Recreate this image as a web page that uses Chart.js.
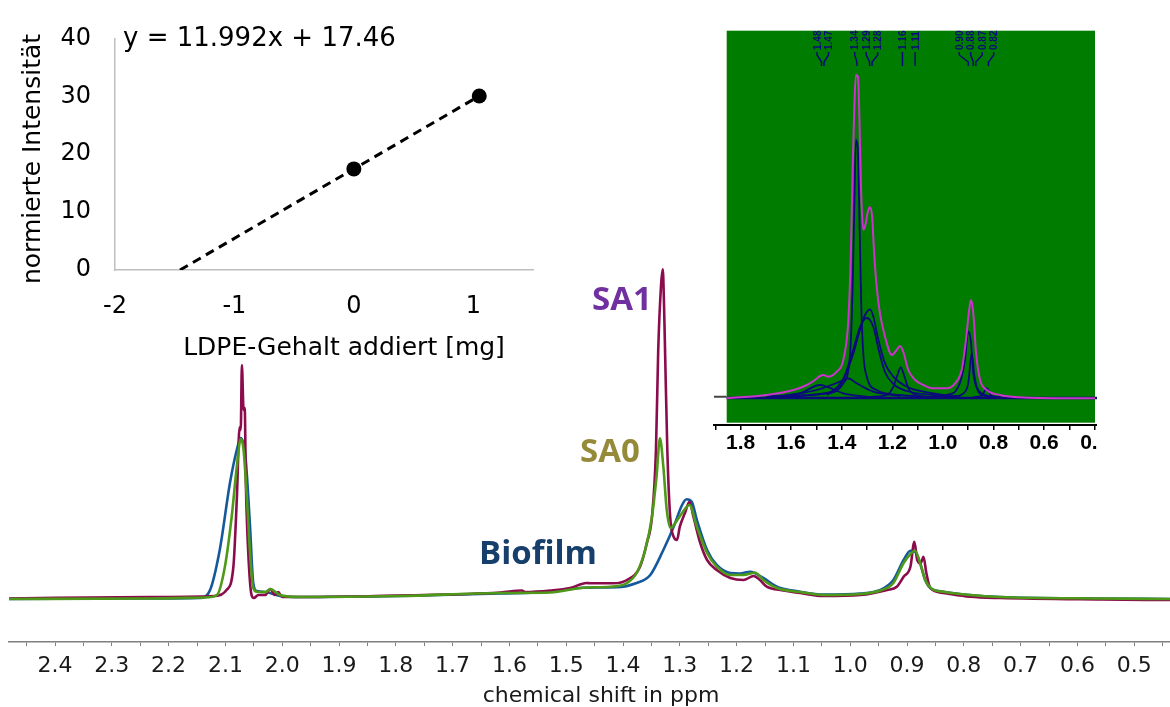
<!DOCTYPE html>
<html>
<head>
<meta charset="utf-8">
<script src="https://cdn.jsdelivr.net/npm/chart.js@4.4.1/dist/chart.umd.min.js"></script>
<style>
html, body { margin: 0; padding: 0; background: #fff; }
#wrap { position: relative; width: 1170px; height: 707px; overflow: hidden; }
canvas { position: absolute; display: block; }
#main { left: 0; top: 0; }
#calib { left: 0; top: 0; }
#zoom { left: 700px; top: 20px; }
</style>
</head>
<body>
<div id="wrap">
<canvas id="main" width="1170" height="707"></canvas>
<canvas id="calib" width="560" height="370"></canvas>
<canvas id="zoom" width="397" height="445"></canvas>
</div>
<script>
// ---- main 1H spectra: [chemical shift ppm, relative intensity]
const biofilm = [[2.481,-1],[2.233,-0.5],[2.145,0],[2.127,8],[2.110,48],[2.092,115],[2.080,148],[2.073,160],[2.065,143],[2.057,75],[2.051,15],[2.045,7],[2.030,6],[2.004,2],[1.969,1],[1.793,2],[1.616,4.5],[1.528,6.3],[1.470,10.3],[1.411,10.7],[1.376,15],[1.352,23],[1.329,48],[1.311,71],[1.296,93],[1.288,98.7],[1.279,96.3],[1.270,78],[1.252,48],[1.235,33],[1.211,25],[1.194,24.5],[1.176,26.3],[1.153,20],[1.129,11.3],[1.088,6.3],[1.047,3.5],[0.982,4.5],[0.947,8],[0.924,18],[0.906,38],[0.894,47.3],[0.886,46.3],[0.877,35],[0.868,18],[0.859,10],[0.836,6.3],[0.789,3],[0.736,1],[0.558,-0.5],[0.437,-1]];
const sa0 = [[2.481,-1],[2.233,-0.5],[2.136,0.5],[2.115,3],[2.101,31],[2.089,81],[2.080,131],[2.073,159],[2.068,148],[2.062,98],[2.057,48],[2.051,10],[2.043,6],[2.029,6],[2.021,9],[2.004,3],[1.969,1],[1.793,2],[1.616,5],[1.528,5.5],[1.470,10.3],[1.423,11.3],[1.393,15],[1.376,25],[1.361,48],[1.349,81.3],[1.341,121.3],[1.335,159.7],[1.329,131.3],[1.323,88],[1.316,70],[1.308,75],[1.296,85],[1.283,93],[1.270,71.3],[1.252,45],[1.235,31.3],[1.211,23],[1.188,23],[1.167,25.3],[1.153,18],[1.129,10],[1.088,6],[1.047,3],[0.982,4],[0.947,7.5],[0.924,15],[0.906,35],[0.894,44],[0.886,47.3],[0.877,35],[0.868,18],[0.856,9],[0.836,6.3],[0.789,3],[0.736,1],[0.558,-0.5],[0.437,-1]];
const sa1 = [[2.481,-0.5],[2.233,1],[2.118,2],[2.098,8],[2.086,31],[2.080,98],[2.075,171],[2.073,168],[2.071,233],[2.068,188],[2.066,190],[2.064,115],[2.060,48],[2.054,3],[2.050,0],[2.042,3],[2.030,3],[2.021,9],[2.013,3],[2.007,6],[2.000,1],[1.969,1],[1.793,2.5],[1.616,5.5],[1.578,7.5],[1.572,6],[1.528,7.5],[1.493,10],[1.464,15],[1.458,14.7],[1.417,14.7],[1.393,18],[1.370,31.3],[1.358,55],[1.349,81.3],[1.342,148],[1.338,248],[1.333,313],[1.330,328.7],[1.328,298],[1.326,248],[1.322,148],[1.317,81.3],[1.311,61.3],[1.305,58],[1.300,71.3],[1.291,85],[1.283,96.3],[1.276,81.3],[1.264,55],[1.252,38],[1.235,28],[1.211,20],[1.188,18],[1.170,22],[1.159,18],[1.147,11.3],[1.123,8],[1.088,5],[1.047,2],[0.982,3],[0.935,8],[0.918,11.3],[0.906,21.3],[0.894,31.3],[0.887,56.3],[0.882,38],[0.876,34.7],[0.871,41.3],[0.866,25],[0.859,10],[0.836,5],[0.789,1.3],[0.736,0],[0.558,-1.5],[0.437,-2]];

// ---- standard addition inset
const ldpeAdded = [0, 1.05];          // mg
const normIntensity = [17.46, 30.05];
const fitSlope = 11.992;
const fitIntercept = 17.46;

// ---- deconvolution inset (0.4 - 1.9 ppm)
const envelope = [[1.855,-1.3],[1.696,2],[1.591,7],[1.538,12],[1.506,17],[1.486,21],[1.473,22],[1.453,20.3],[1.420,25.3],[1.394,37],[1.374,77],[1.364,143.7],[1.357,227],[1.350,293.7],[1.344,322],[1.336,320.3],[1.330,277],[1.324,210.3],[1.315,167],[1.305,173.7],[1.297,185.3],[1.288,189.7],[1.280,180.3],[1.272,143.7],[1.262,110.3],[1.249,83.7],[1.229,60.3],[1.202,42],[1.183,47],[1.170,51],[1.157,45.3],[1.137,27],[1.110,17],[1.077,12],[1.038,8.7],[0.985,8.7],[0.952,13.7],[0.926,27],[0.909,57],[0.898,83.7],[0.889,97],[0.880,83.7],[0.869,43.7],[0.853,17],[0.827,7],[0.774,2],[0.695,-0.3],[0.511,-1.3],[0.399,-1.3]];
const comp134 = [[1.459,2],[1.394,13.7],[1.367,43.7],[1.357,110.3],[1.350,193.7],[1.344,257],[1.337,250.3],[1.330,177],[1.323,93.7],[1.315,43.7],[1.301,20.3],[1.262,7],[1.170,2],[1.038,-0.3]];
const comp129 = [[1.696,0.5],[1.459,3.7],[1.394,17],[1.354,43.7],[1.328,67],[1.308,82],[1.288,87.7],[1.275,80.3],[1.255,57],[1.229,33.7],[1.196,20.3],[1.143,10.3],[1.038,3.7],[0.932,0.3]];
const comp130 = [[1.696,0.5],[1.459,4],[1.394,18],[1.354,48],[1.328,70],[1.301,79],[1.275,70],[1.255,48],[1.229,25],[1.196,13],[1.143,6],[1.038,2],[0.932,0]];
const comp116 = [[1.300,0],[1.222,2],[1.196,10.3],[1.180,22],[1.167,29.7],[1.154,22],[1.137,8.7],[1.104,2],[1.040,0]];
const comp090 = [[1.040,0],[0.985,2],[0.939,10.3],[0.913,37],[0.900,65.3],[0.890,57],[0.880,23.7],[0.860,7],[0.814,1],[0.770,0]];
const comp088 = [[0.960,0],[0.919,3.7],[0.900,13.7],[0.886,43.7],[0.877,23.7],[0.860,5.3],[0.827,1],[0.790,0]];
const comp148 = [[1.696,0.3],[1.565,3.7],[1.486,12],[1.459,10.3],[1.394,3.7],[1.301,0.3]];
const comp138 = [[1.631,1],[1.499,7],[1.407,15.3],[1.374,18.7],[1.341,13.7],[1.275,5.3],[1.170,1]];
const comp082 = [[0.880,0],[0.847,1],[0.827,8.7],[0.807,1],[0.780,0]];
const peakShifts = [1.48, 1.47, 1.34, 1.29, 1.28, 1.16, 1.11, 0.90, 0.88, 0.87, 0.82];

const toXY = pts => pts.map(p => ({ x: p[0], y: p[1] }));

function lineSet(pts, color, width) {
  return {
    data: toXY(pts), borderColor: color, borderWidth: width, pointRadius: 0,
    fill: false, cubicInterpolationMode: 'monotone'
  };
}

// ---------- main chart
const mainText = {
  id: 'mainText',
  afterDraw(chart) {
    const ctx = chart.ctx;
    ctx.save();
    ctx.textAlign = 'center';
    ctx.font = 'bold 33px "Open Sans"';
    ctx.fillStyle = '#7030a0';
    ctx.fillText('SA1', 622, 310);
    ctx.fillStyle = '#958a3a';
    ctx.fillText('SA0', 610, 462);
    ctx.fillStyle = '#173f6b';
    ctx.fillText('Biofilm', 538, 564);
    ctx.font = '22px "DejaVu Sans"';
    ctx.fillStyle = '#1a1a1a';
    ctx.fillText('chemical shift in ppm', 601, 702);
    ctx.restore();
  }
};

new Chart(document.getElementById('main'), {
  type: 'line',
  data: {
    datasets: [
      lineSet(sa0, '#4e9a18', 2.6),
      lineSet(sa1, '#8b0c4c', 2.6),
      lineSet(biofilm, '#15589c', 2.6)
    ]
  },
  options: {
    responsive: false,
    animation: false,
    devicePixelRatio: 1,
    layout: { padding: { left: 9, right: 0, top: 0, bottom: 0 } },
    plugins: { legend: { display: false }, tooltip: { enabled: false } },
    scales: {
      x: {
        type: 'linear', reverse: true, min: 0.437, max: 2.481,
        afterFit: s => { s.height = 65; s.paddingLeft = 0; s.paddingRight = 0; },
        grid: { display: true, drawOnChartArea: false, tickLength: 4, color: '#7f7f7f', lineWidth: 1 },
        border: { display: true, color: '#7f7f7f', width: 1.5 },
        ticks: {
          stepSize: 0.05, autoSkip: false, maxRotation: 0, includeBounds: false, padding: 7,
          color: '#1a1a1a', font: { family: 'DejaVu Sans', size: 22 },
          callback: v => Math.abs(v * 10 - Math.round(v * 10)) < 1e-6 ? v.toFixed(1) : ''
        }
      },
      y: { display: false, min: -44, max: 598 }
    }
  },
  plugins: [mainText]
});

// ---------- standard addition inset
const trend = [
  [-fitIntercept / fitSlope, 0],
  [ldpeAdded[ldpeAdded.length - 1], fitSlope * ldpeAdded[ldpeAdded.length - 1] + fitIntercept]
];

const calibText = {
  id: 'calibText',
  afterDraw(chart) {
    const ctx = chart.ctx;
    ctx.save();
    ctx.fillStyle = '#000';
    ctx.font = '26px "DejaVu Sans"';
    ctx.textAlign = 'left';
    ctx.fillText('y = 11.992x + 17.46', 123, 46);
    ctx.font = '25px "DejaVu Sans"';
    ctx.textAlign = 'center';
    ctx.fillText('LDPE-Gehalt addiert [mg]', 344, 355);
    ctx.translate(40, 159);
    ctx.rotate(-Math.PI / 2);
    ctx.fillText('normierte Intensität', 0, 0);
    ctx.restore();
  }
};

new Chart(document.getElementById('calib'), {
  type: 'scatter',
  data: {
    datasets: [
      {
        data: ldpeAdded.map((x, i) => ({ x, y: normIntensity[i] })),
        pointRadius: 7.5, pointBackgroundColor: '#000', pointBorderWidth: 0, showLine: false
      },
      {
        data: toXY(trend), showLine: true, borderColor: '#000', borderWidth: 3,
        borderDash: [9, 6], pointRadius: 0
      }
    ]
  },
  options: {
    responsive: false,
    animation: false,
    devicePixelRatio: 1,
    layout: { padding: { top: 26, right: 27, left: 0, bottom: 0 } },
    plugins: { legend: { display: false }, tooltip: { enabled: false } },
    scales: {
      x: {
        min: -2, max: 1.5,
        afterFit: s => { s.height = 100; s.paddingLeft = 0; s.paddingRight = 0; },
        grid: { display: false, drawTicks: false },
        border: { display: true, color: '#bfbfbf', width: 1.5 },
        ticks: {
          stepSize: 1, includeBounds: false, autoSkip: false, maxRotation: 0, padding: 22,
          color: '#000', font: { family: 'DejaVu Sans', size: 24 }
        }
      },
      y: {
        min: 0, max: 40,
        afterFit: s => { s.width = 115; },
        grid: { display: false, drawTicks: false },
        border: { display: true, color: '#bfbfbf', width: 1.5 },
        ticks: {
          stepSize: 10, padding: 24, color: '#000', font: { family: 'DejaVu Sans', size: 24 }
        }
      }
    }
  },
  plugins: [calibText]
});

// ---------- deconvolution inset
const navy = '#0a0a7a';

const greenBox = {
  id: 'greenBox',
  beforeDraw(chart) {
    const ctx = chart.ctx;
    ctx.save();
    ctx.fillStyle = '#fff';
    ctx.fillRect(0, 0, chart.width, chart.height);
    ctx.fillStyle = '#007d00';
    ctx.fillRect(26.7, 10.7, 368.3, 392);
    ctx.restore();
  },
  afterDatasetsDraw(chart) {
    const ctx = chart.ctx;
    const xs = chart.scales.x;
    const px = peakShifts.map(v => xs.getPixelForValue(v));
    const pos = px.slice();
    for (let it = 0; it < 200; it++) {
      for (let i = 1; i < pos.length; i++) {
        const d = pos[i] - pos[i - 1];
        if (d < 11.5) { const m = (11.5 - d) / 2; pos[i - 1] -= m; pos[i] += m; }
      }
    }
    ctx.save();
    ctx.strokeStyle = navy;
    ctx.fillStyle = navy;
    ctx.lineWidth = 1.5;
    ctx.font = 'bold 10px "Liberation Sans"';
    peakShifts.forEach((v, i) => {
      ctx.beginPath();
      ctx.moveTo(pos[i], 32);
      ctx.lineTo(pos[i], 35);
      ctx.lineTo(px[i], 42);
      ctx.lineTo(px[i], 46);
      ctx.stroke();
      ctx.save();
      ctx.translate(pos[i] + 3.5, 30);
      ctx.rotate(-Math.PI / 2);
      ctx.textAlign = 'left';
      ctx.fillText(v.toFixed(2), 0, 0);
      ctx.restore();
    });
    ctx.restore();
  }
};

new Chart(document.getElementById('zoom'), {
  type: 'line',
  data: {
    datasets: [
      lineSet(envelope, '#cc33cc', 2),
      lineSet(comp134, navy, 1.8),
      lineSet(comp129, navy, 1.8),
      lineSet(comp130, navy, 1.8),
      lineSet(comp116, navy, 1.8),
      lineSet(comp090, navy, 1.8),
      lineSet(comp088, navy, 1.8),
      lineSet(comp148, navy, 1.8),
      lineSet(comp138, navy, 1.8),
      lineSet(comp082, navy, 1.8),
      lineSet([[1.855, -1], [0.391, -1]], navy, 2.5),
      lineSet([[1.905, 0.3], [1.855, 0.3]], '#444', 2)
    ]
  },
  options: {
    responsive: false,
    animation: false,
    devicePixelRatio: 1,
    layout: { padding: { left: 14, right: 0, top: 10.7, bottom: 0 } },
    plugins: { legend: { display: false }, tooltip: { enabled: false } },
    scales: {
      x: {
        type: 'linear', reverse: true, min: 0.391, max: 1.905,
        afterFit: s => { s.height = 40; s.paddingLeft = 0; s.paddingRight = 0; },
        grid: { display: true, drawOnChartArea: false, tickLength: 5, color: '#000', lineWidth: 1.5 },
        border: { display: true, color: '#000', width: 2 },
        ticks: {
          stepSize: 0.1, autoSkip: false, maxRotation: 0, includeBounds: false, padding: 1,
          color: '#000', font: { family: 'Liberation Sans', size: 21, weight: 'bold' },
          callback: v => Math.round(v * 10) % 2 === 0 ? v.toFixed(1) : ''
        }
      },
      y: { display: false, min: -28, max: 366.3 }
    }
  },
  plugins: [greenBox]
});
</script>
</body>
</html>
